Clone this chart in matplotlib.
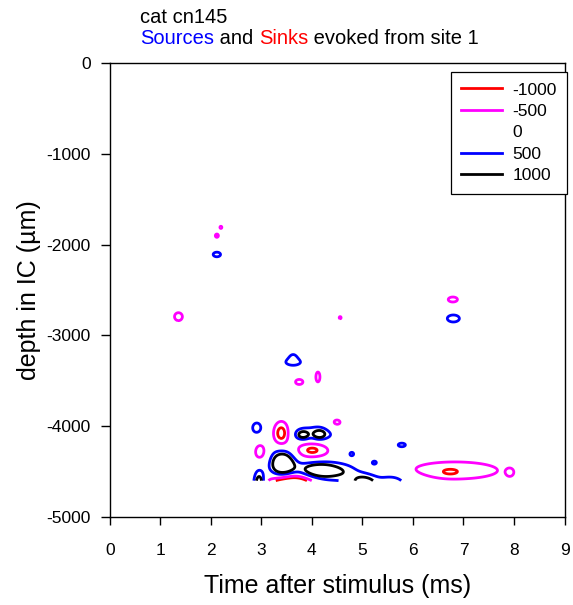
import numpy as np
import matplotlib.pyplot as plt
from matplotlib.lines import Line2D

plt.rcParams['font.family'] = ['Liberation Sans', 'DejaVu Sans']
plt.rcParams['axes.unicode_minus'] = False

# contour levels of the current source density and their line colours
levels = [-1000, -500, 0, 500, 1000]
level_colors = ['red', 'magenta', 'none', 'blue', 'black']

# CSD components: latency (ms), depth (um), peak value, spread in time (ms), spread in depth (um)
comp_time = [1.36, 2.20, 2.12, 4.56, 6.79, 3.75, 4.12, 3.40, 2.98, 4.01, 4.49, 3.60,
             6.83, 6.73, 7.92,
             2.12, 6.80, 3.63, 3.63, 2.91, 4.08, 3.82, 4.15,
             3.42, 4.15, 4.70, 5.03, 5.30, 5.60, 2.96, 4.79, 5.24, 5.78]
comp_depth = [-2794, -1810, -1902, -2805, -2605, -3513, -3458, -4080, -4290, -4257, -3965, -4660,
              -4488, -4505, -4510,
              -2109, -2814, -3240, -3300, -4020, -4091, -4097, -4091,
              -4416, -4488, -4500, -4630, -4620, -4640, -4680, -4306, -4402, -4207]
comp_peak = [-800, -560, -600, -560, -650, -650, -650, -1346, -700, -1200, -700, -3000,
             -800, -350, -580,
             650, 700, 550, 500, 700, 700, 900, 900,
             2000, 1700, 450, 900, 600, 750, 1800, 600, 650, 650]
comp_sd_time = [0.08, 0.04, 0.05, 0.04, 0.125, 0.10, 0.055, 0.12, 0.12, 0.26, 0.13, 0.30,
                0.87, 0.15, 0.05,
                0.10, 0.145, 0.10, 0.20, 0.10, 0.38, 0.09, 0.09,
                0.17, 0.31, 0.22, 0.17, 0.50, 0.15, 0.08, 0.06, 0.08, 0.10]
comp_sd_depth = [45, 25, 30, 25, 38, 38, 75, 98, 100, 75, 54, 80,
                 97, 30, 30,
                 35, 47, 55, 35, 67, 90, 35, 35,
                 103, 70, 70, 70, 80, 60, 130, 30, 33, 28]

time = np.arange(0, 8.001, 0.01)
depth = np.arange(-4600, -1599, 5)
T, D = np.meshgrid(time, depth)
csd = np.zeros_like(T)
for t0, d0, a, st, sd in zip(comp_time, comp_depth, comp_peak, comp_sd_time, comp_sd_depth):
    csd += a * np.exp(-0.5 * ((T - t0) / st) ** 2 - 0.5 * ((D - d0) / sd) ** 2)

fig = plt.figure(figsize=(5.73, 6.05), dpi=100)
ax = fig.add_axes([0.1915, 0.1455, 0.7937, 0.7504])

# the zero level carries no line
drawn = [(lv, c) for lv, c in zip(levels, level_colors) if c != 'none']
ax.contour(T, D, csd, levels=[lv for lv, c in drawn], colors=[c for lv, c in drawn],
           linewidths=2.0, linestyles='solid')

ax.set_xlim(0, 9)
ax.set_ylim(-5000, 0)
ax.set_xticks(range(10))
ax.set_yticks(range(-5000, 1, 1000))
ax.tick_params(direction='out', length=6, width=1, labelsize=12.5,
               top=False, right=False)
ax.tick_params(axis='x', pad=12.5)
ax.tick_params(axis='y', length=6.5, pad=7)
for s in ax.spines.values():
    s.set_linewidth(1)
ax.set_xlabel('Time after stimulus (ms)', fontsize=18, labelpad=12)
ax.set_ylabel('depth in IC (\u00b5m)', fontsize=18, labelpad=4)

handles = [Line2D([], [], color=c, lw=2) for c in level_colors]
leg = ax.legend(handles, [str(lv) for lv in levels], loc='upper right',
                bbox_to_anchor=(567 / 573, 1 - 72 / 605), bbox_transform=fig.transFigure,
                fontsize=12.5, frameon=True, fancybox=False, framealpha=1,
                edgecolor='black', borderpad=0.6, handlelength=2.35,
                handletextpad=0.6, labelspacing=0.36, borderaxespad=0)
leg.get_frame().set_linewidth(0.9)

# two-line heading, second line with coloured words
fig.text(140 / 573, 1 - 23 / 605, 'cat cn145', fontsize=14.5, va='baseline')
prev = fig.text(140 / 573, 1 - 43.5 / 605, 'Sources', color='blue', fontsize=14.5,
                va='baseline')
for word, col in [(' and ', 'black'), ('Sinks', 'red'),
                  (' evoked from site 1', 'black')]:
    prev = ax.annotate(word, xy=(1, 0), xycoords=prev, va='bottom', ha='left',
                       color=col, fontsize=14.5)

fig.savefig('out.png', dpi=100)
